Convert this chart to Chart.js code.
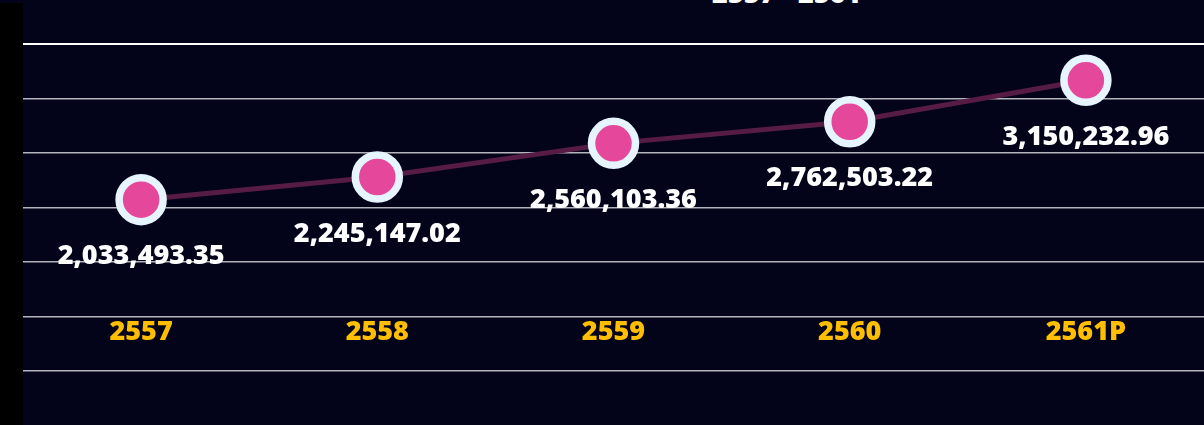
<!DOCTYPE html>
<html lang="th">
<head>
    <meta charset="UTF-8">
    <title>2557 - 2561P</title>
    <script src="https://cdn.jsdelivr.net/npm/chart.js"></script>
    <style>
        html, body { margin: 0; padding: 0; background: #03031a; overflow: hidden; }
        #wrap { position: relative; width: 1204px; height: 425px; }
        #strip { position: absolute; left: 0; top: 3px; width: 23px; height: 422px; background: #000; }
        #topText { position: absolute; left: 712px; top: -21px; color: #fff; font: 800 27px 'Open Sans', sans-serif; line-height: 1; white-space: nowrap; }
        canvas { position: absolute; left: 0; top: 0; }
    </style>
</head>
<body>
<div id="wrap">
    <div id="strip"></div>
    <div id="topText">2557 - 2561</div>
    <canvas id="valueChart" width="1204" height="425"></canvas>
</div>
<script>
    // years shown on the axis and the value for each year
    const years = ['2557', '2558', '2559', '2560', '2561P'];
    const values = [2033493.35, 2245147.02, 2560103.36, 2762503.22, 3150232.96];

    const fontFamily = "'Open Sans', sans-serif";

    // draws the number under every point
    const valueLabels = {
        id: 'valueLabels',
        afterDatasetsDraw(chart) {
            const ctx = chart.ctx;
            const meta = chart.getDatasetMeta(0);
            ctx.save();
            ctx.fillStyle = '#ffffff';
            ctx.font = '800 27px ' + fontFamily;
            ctx.textAlign = 'center';
            ctx.textBaseline = 'middle';
            meta.data.forEach((pt, i) => {
                let txt = values[i].toLocaleString('en-US', { minimumFractionDigits: 2, maximumFractionDigits: 2 });
                ctx.fillText(txt, pt.x, pt.y + 57);
            });
            ctx.restore();
        }
    };

    new Chart(document.getElementById('valueChart'), {
        type: 'line',
        data: {
            labels: years,
            datasets: [{
                data: values,
                borderColor: '#561c46',
                borderWidth: 5,
                pointRadius: 22,
                pointHoverRadius: 22,
                pointBorderWidth: 7.5,
                pointBackgroundColor: '#e5489b',
                pointBorderColor: '#e6f4fd',
                tension: 0,
                fill: false,
                clip: false
            }]
        },
        options: {
            responsive: false,
            animation: false,
            layout: { autoPadding: false, padding: { left: 23, top: 44, right: 0, bottom: 0 } },
            plugins: { legend: { display: false }, tooltip: { enabled: false } },
            scales: {
                x: {
                    offset: true,
                    grid: { display: false },
                    border: { display: false },
                    ticks: {
                        mirror: true,
                        color: '#ffbf00',
                        font: { family: fontFamily, size: 27, weight: '800' },
                        padding: 22,
                        maxRotation: 0,
                        autoSkip: false
                    },
                    afterFit(scale) {
                        scale.height = 54;
                        scale.paddingLeft = 0;
                        scale.paddingRight = 0;
                    }
                },
                y: {
                    min: 430000,
                    max: 3490000,
                    border: { display: false },
                    ticks: { display: false, count: 7 },
                    grid: {
                        drawTicks: false,
                        color: (c) => c.index === 6 ? '#ffffff' : '#b4b4bc',
                        lineWidth: (c) => c.index === 6 ? 2 : 1.5
                    },
                    afterFit(scale) {
                        scale.width = 0;
                        scale.paddingTop = 0;
                        scale.paddingBottom = 0;
                    }
                }
            }
        },
        plugins: [valueLabels]
    });
</script>
</body>
</html>
